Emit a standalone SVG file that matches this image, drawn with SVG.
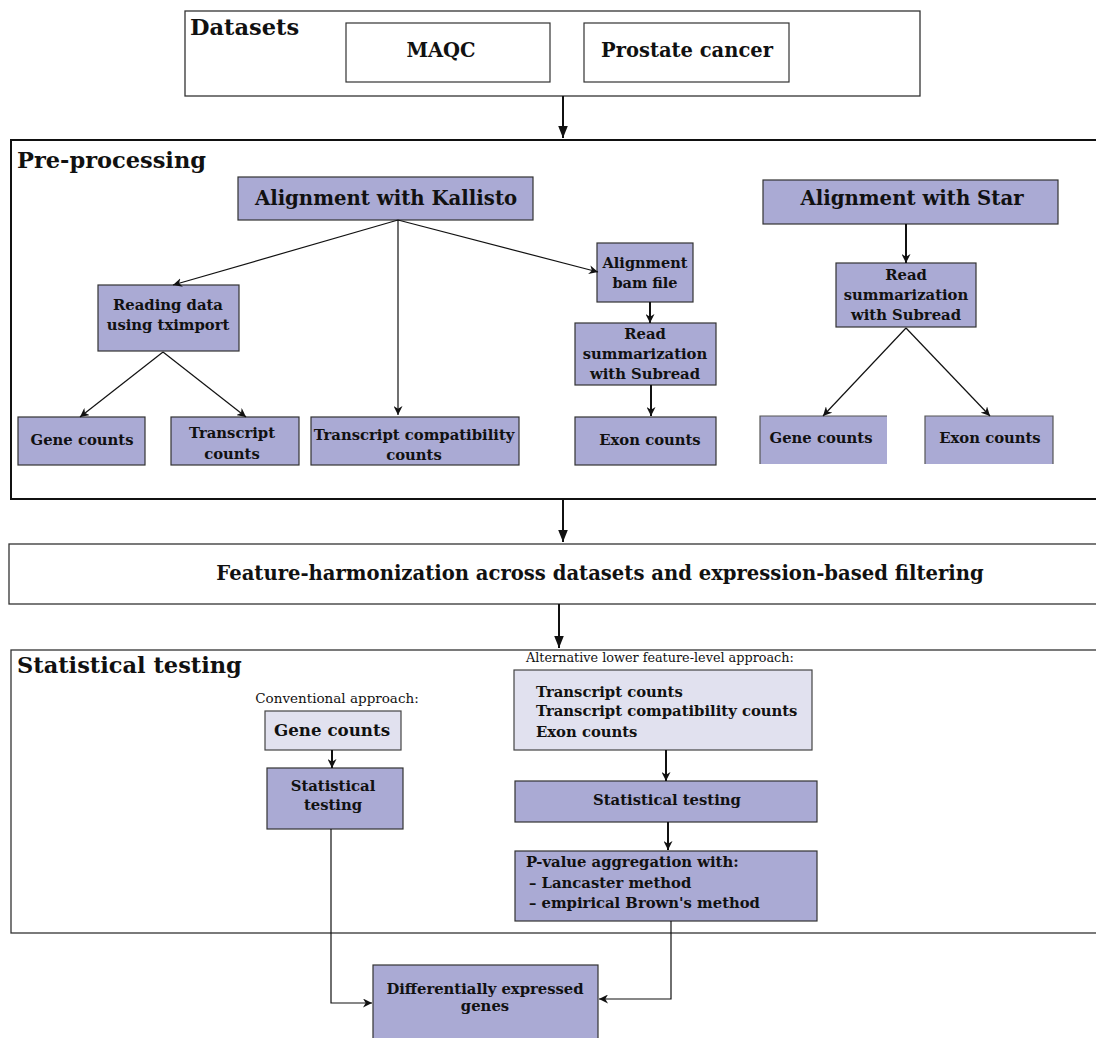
<svg xmlns="http://www.w3.org/2000/svg" width="1096" height="1038" viewBox="0 0 1096 1038">
<defs>
<style>
.frame{fill:#fff;stroke:#333;stroke-width:1.3}
.frame2{fill:#fff;stroke:#111;stroke-width:2}
.n{fill:#aaaad4;stroke:#333;stroke-width:1.2}
.nf{fill:#aaaad4}
.lt{fill:#e1e1ef;stroke:#444;stroke-width:1.2}
.w{fill:#fff;stroke:#333;stroke-width:1.2}
.bd{fill:none;stroke:#555;stroke-width:1.2}
text{font-family:"DejaVu Serif","Liberation Serif",serif;font-weight:bold;fill:#111}
.c{text-anchor:middle}
.h{font-size:22.5px}
.s{font-size:14.8px}
.r{font-weight:normal}
.e{fill:none;stroke:#111;stroke-width:1.2}
.e2{fill:none;stroke:#111;stroke-width:2}
</style>
<marker id="a" viewBox="0 0 10 10" refX="10" refY="5" markerWidth="9" markerHeight="9" markerUnits="userSpaceOnUse" orient="auto">
<path d="M0,0 L10,5 L0,10 L3,5 Z" fill="#111"/>
</marker>
<marker id="b" viewBox="0 0 10 10" refX="10" refY="5" markerWidth="12" markerHeight="12" markerUnits="userSpaceOnUse" orient="auto">
<path d="M0,1 L10,5 L0,9 Z" fill="#111"/>
</marker>
</defs>

<g id="datasets">
<rect class="frame" x="185" y="11" width="735" height="85"/>
<text class="h" x="190" y="35">Datasets</text>
</g>
<g id="maqc">
<rect class="w" x="346" y="23" width="204" height="59"/>
<text class="c" x="441" y="57" font-size="19.5">MAQC</text>
</g>
<g id="prostate">
<rect class="w" x="584" y="23" width="205" height="59"/>
<text class="c" x="687" y="57" font-size="19.5">Prostate cancer</text>
</g>

<g id="preprocessing">
<rect class="frame2" x="11" y="140" width="1100" height="359"/>
<text class="h" x="17" y="168">Pre-processing</text>
</g>

<g id="kallisto">
<rect class="n" x="238" y="177" width="295" height="43"/>
<text class="c" x="386" y="205" font-size="19.7">Alignment with Kallisto</text>
</g>
<g id="star">
<rect class="n" x="763" y="180" width="295" height="44"/>
<text class="c" x="912" y="205" font-size="19.7">Alignment with Star</text>
</g>
<g id="tximport">
<rect class="n" x="98" y="285" width="141" height="66"/>
<text class="c s" x="168" y="310">Reading data</text>
<text class="c s" x="168" y="330">using tximport</text>
</g>
<g id="genecounts1">
<rect class="n" x="18" y="417" width="127" height="48"/>
<text class="c s" x="82" y="445">Gene counts</text>
</g>
<g id="transcriptcounts">
<rect class="n" x="171" y="417" width="128" height="48"/>
<text class="c s" x="232" y="438">Transcript</text>
<text class="c s" x="232" y="459">counts</text>
</g>
<g id="tcc">
<rect class="n" x="311" y="417" width="208" height="48"/>
<text class="c s" x="414" y="440">Transcript compatibility</text>
<text class="c s" x="414" y="460">counts</text>
</g>
<g id="bam">
<rect class="n" x="597" y="243" width="96" height="59"/>
<text class="c" x="645" y="268" font-size="14.5">Alignment</text>
<text class="c" x="645" y="288" font-size="14.5">bam file</text>
</g>
<g id="readsum1">
<rect class="n" x="575" y="323" width="141" height="62"/>
<text class="c s" x="645" y="339">Read</text>
<text class="c s" x="645" y="359">summarization</text>
<text class="c s" x="645" y="379">with Subread</text>
</g>
<g id="exon1">
<rect class="n" x="575" y="417" width="141" height="48"/>
<text class="c s" x="650" y="445">Exon counts</text>
</g>
<g id="readsum2">
<rect class="n" x="836" y="263" width="140" height="64"/>
<text class="c s" x="906" y="280">Read</text>
<text class="c s" x="906" y="300">summarization</text>
<text class="c s" x="906" y="320">with Subread</text>
</g>
<g id="genecounts2">
<rect class="nf" x="760" y="416" width="127" height="48"/>
<path class="bd" d="M760,464 V416 H887"/>
<text class="c s" x="821" y="443">Gene counts</text>
</g>
<g id="exon2">
<rect class="nf" x="925" y="416" width="128" height="48"/>
<path class="bd" d="M925,464 V416 H1053 V464"/>
<text class="c s" x="990" y="443">Exon counts</text>
</g>

<g id="harmonization">
<rect class="frame" x="9" y="544" width="1100" height="60"/>
<text class="c" x="600" y="580" font-size="19.6">Feature-harmonization across datasets and expression-based filtering</text>
</g>

<g id="stat">
<rect class="frame" x="11" y="650" width="1100" height="283"/>
<text class="h" x="17" y="673">Statistical testing</text>
<text class="r c" x="337" y="703" font-size="13.5">Conventional approach:</text>
<text class="r" x="526" y="662" font-size="12.8">Alternative lower feature-level approach:</text>
</g>
<g id="genecounts3">
<rect class="lt" x="265" y="711" width="136" height="39"/>
<text class="c" x="332" y="736" font-size="16.7">Gene counts</text>
</g>
<g id="stattest1">
<rect class="n" x="267" y="768" width="136" height="61"/>
<text class="c s" x="333" y="791">Statistical</text>
<text class="c s" x="333" y="810">testing</text>
</g>
<g id="lowerlevel">
<rect class="lt" x="514" y="670" width="298" height="80"/>
<text class="s" x="536" y="697">Transcript counts</text>
<text class="s" x="536" y="716">Transcript compatibility counts</text>
<text class="s" x="536" y="737">Exon counts</text>
</g>
<g id="stattest2">
<rect class="n" x="515" y="781" width="302" height="41"/>
<text class="c s" x="667" y="805">Statistical testing</text>
</g>
<g id="pvalue">
<rect class="n" x="515" y="851" width="302" height="70"/>
<text class="s" x="526" y="867">P-value aggregation with:</text>
<text class="s" x="529" y="888">– Lancaster method</text>
<text class="s" x="529" y="908">– empirical Brown's method</text>
</g>
<g id="deg">
<rect class="n" x="373" y="965" width="225" height="80"/>
<text class="c s" x="485" y="994">Differentially expressed</text>
<text class="c s" x="485" y="1011">genes</text>
</g>

<g id="connectors">
<path class="e2" d="M563,96 L563,138" marker-end="url(#b)"/>
<path class="e" d="M398,220 L173,285" marker-end="url(#a)"/>
<path class="e" d="M398,220 L398,415" marker-end="url(#a)"/>
<path class="e" d="M398,220 L598,272" marker-end="url(#a)"/>
<path class="e" d="M163,352 L80,417" marker-end="url(#a)"/>
<path class="e" d="M163,352 L246,417" marker-end="url(#a)"/>
<path class="e2" d="M650,302 L650,323" marker-end="url(#a)"/>
<path class="e2" d="M651,385 L651,416" marker-end="url(#a)"/>
<path class="e2" d="M906,224 L906,263" marker-end="url(#a)"/>
<path class="e" d="M906,328 L823,416" marker-end="url(#a)"/>
<path class="e" d="M906,328 L990,416" marker-end="url(#a)"/>
<path class="e2" d="M563,499 L563,542" marker-end="url(#b)"/>
<path class="e2" d="M559,604 L559,648" marker-end="url(#b)"/>
<path class="e2" d="M332,750 L332,768" marker-end="url(#a)"/>
<path class="e2" d="M666,750 L666,781" marker-end="url(#a)"/>
<path class="e2" d="M668,822 L668,850" marker-end="url(#a)"/>
<path class="e" d="M331,829 L331,1003 L372,1003" marker-end="url(#a)"/>
<path class="e" d="M671,921 L671,999 L599,999" marker-end="url(#a)"/>
</g>
</svg>
